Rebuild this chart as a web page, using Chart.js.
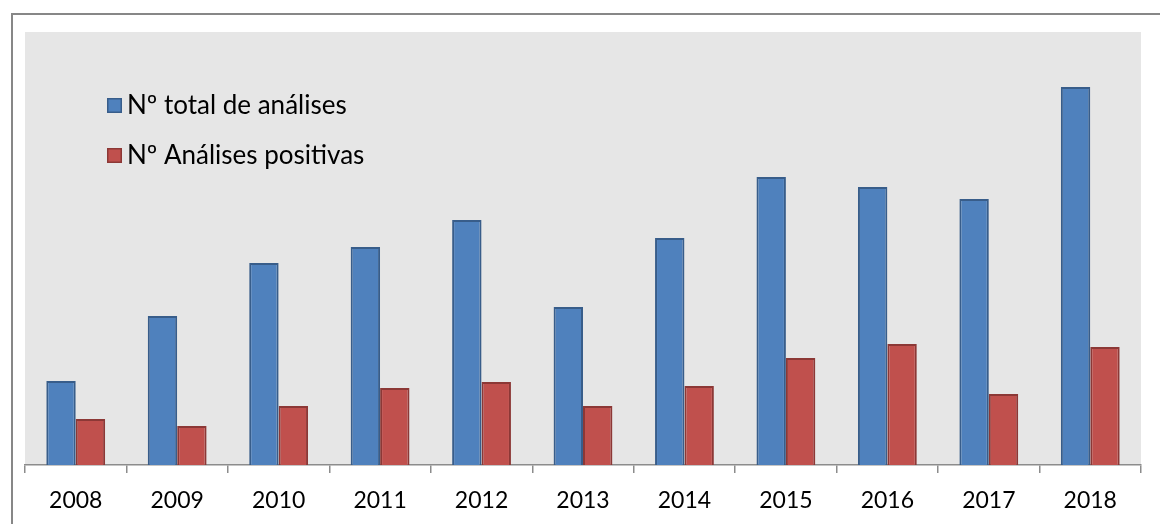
<!DOCTYPE html>
<html>
<head>
<meta charset="utf-8">
<script src="https://cdn.jsdelivr.net/npm/chart.js@4/dist/chart.umd.min.js"></script>
<style>
  html, body { margin: 0; padding: 0; background: #fff; }
  #wrap { position: relative; width: 1160px; height: 524px; }
  #frame { position: absolute; left: 11px; top: 13px; right: 0; bottom: 0;
           border-top: 2px solid #878787; border-left: 2px solid #878787; }
  canvas { position: absolute; left: 0; top: 0; }
</style>
</head>
<body>
<div id="wrap">
  <div id="frame"></div>
  <canvas id="myChart" width="1160" height="524"></canvas>
</div>
<script>
let years = ['2008', '2009', '2010', '2011', '2012', '2013', '2014', '2015', '2016', '2017', '2018']
let totalAnalises = [84, 149, 202, 218, 245, 158, 227, 288, 278, 266, 378]
let positivas = [46, 39, 59, 77, 83, 59, 79, 107, 121, 71, 118]
let seriesNames = ['Nº total de análises', 'Nº Análises positivas']

const fontFamily = 'Lato, "Open Sans", sans-serif'

// gray plot background
const plotBg = {
    id: 'plotBg',
    beforeDraw(chart) {
        const a = chart.chartArea
        const ctx = chart.ctx
        ctx.save()
        ctx.fillStyle = '#e6e6e6'
        ctx.fillRect(a.left, a.top, a.right - a.left, a.bottom - a.top)
        ctx.restore()
    }
}

// legend drawn inside the plot area, top-left
const innerLegend = {
    id: 'innerLegend',
    afterDraw(chart) {
        const ctx = chart.ctx
        const a = chart.chartArea
        ctx.save()
        ctx.font = '26px ' + fontFamily
        ctx.textBaseline = 'middle'
        chart.data.datasets.forEach((ds, i) => {
            const y = a.top + 73 + i * 50
            const x = a.left + 82
            ctx.fillStyle = ds.backgroundColor
            ctx.fillRect(x, y - 7, 15, 15)
            ctx.strokeStyle = ds.borderColor
            ctx.lineWidth = 1.5
            ctx.strokeRect(x + 0.75, y - 6.25, 13.5, 13.5)
            ctx.fillStyle = '#000'
            ctx.fillText(ds.label, x + 20, y + 1)
        })
        ctx.restore()
    }
}

const buildChart = () => {
    let ctx = document.querySelector('#myChart').getContext('2d')
    new Chart(ctx, {
        type: 'bar',
        data: {
            labels: years,
            datasets: [{
                label: seriesNames[0],
                data: totalAnalises,
                backgroundColor: '#4f81bd',
                borderColor: '#385d8a',
                borderWidth: 2
            }, {
                label: seriesNames[1],
                data: positivas,
                backgroundColor: '#c0504d',
                borderColor: '#8c3836',
                borderWidth: 2
            }]
        },
        options: {
            responsive: false,
            animation: false,
            devicePixelRatio: 1,
            layout: { padding: { left: 25, right: 19, top: 32, bottom: 0 } },
            datasets: { bar: { categoryPercentage: 0.58, barPercentage: 1 } },
            plugins: { legend: { display: false }, tooltip: { enabled: false } },
            scales: {
                y: { display: false, min: 0, max: 433 },
                x: {
                    afterFit(s) { s.height = 59 },
                    border: { color: '#8c8c8c', width: 1.5 },
                    grid: { drawOnChartArea: false, color: '#8c8c8c', tickLength: 8, lineWidth: 1.5 },
                    ticks: { color: '#000', padding: 14, font: { family: fontFamily, size: 23 } }
                }
            }
        },
        plugins: [plotBg, innerLegend]
    })
}

buildChart()
</script>
</body>
</html>
